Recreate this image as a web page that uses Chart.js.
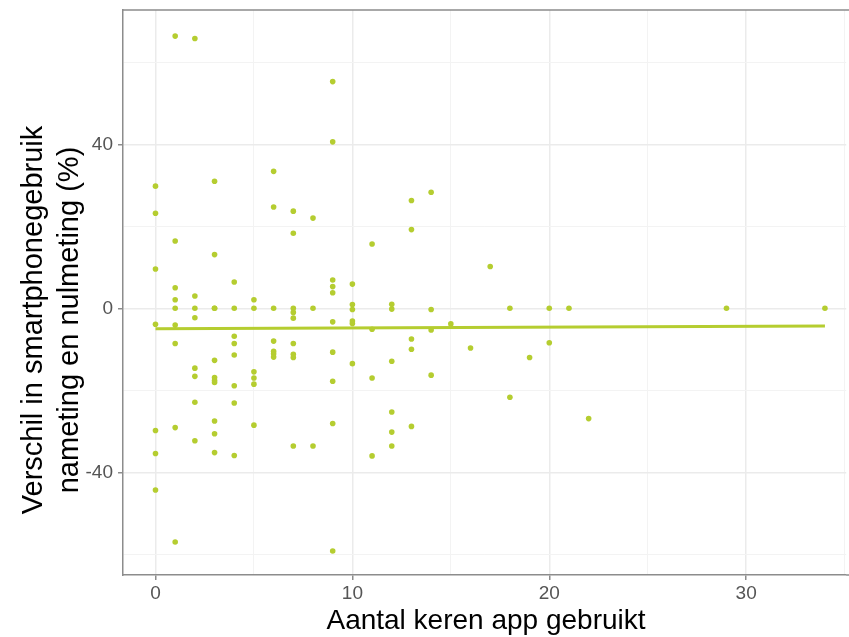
<!DOCTYPE html>
<html>
<head>
<meta charset="utf-8">
<script src="https://cdn.jsdelivr.net/npm/chart.js@4.4.1/dist/chart.umd.min.js"></script>
<style>
  html, body { margin: 0; padding: 0; background: #fff; }
  canvas { display: block; }
</style>
</head>
<body>
<canvas id="scatterChart" width="849" height="637"></canvas>
<script>
// number of times the app was used (x) and change in smartphone use in % (y)
const appUse = [
  0, 0, 0, 0, 0, 0, 0,
  1, 1, 1, 1, 1, 1, 1, 1, 1,
  2, 2, 2, 2, 2, 2, 2, 2,
  3, 3, 3, 3, 3, 3, 3, 3, 3, 3, 3,
  4, 4, 4, 4, 4, 4, 4, 4,
  5, 5, 5, 5, 5, 5,
  6, 6, 6, 6, 6, 6, 6,
  7, 7, 7, 7, 7, 7, 7, 7, 7,
  8, 8, 8,
  9, 9, 9, 9, 9, 9, 9, 9, 9, 9,
  10, 10, 10, 10, 10, 10,
  11, 11, 11, 11,
  12, 12, 12, 12, 12, 12,
  13, 13, 13, 13, 13,
  14, 14, 14, 14,
  15, 16, 17, 18, 18, 19, 20, 20, 21, 22, 29, 34
];
const diffPct = [
  29.8, 23.2, 9.6, -3.9, -29.8, -35.4, -44.3,
  66.4, 16.4, 5.0, 2.1, 0, -4.1, -8.6, -29.1, -57.0,
  65.8, 3.0, 0, -2.3, -14.6, -16.6, -22.9, -32.3,
  31.0, 13.1, 0, 0, -12.7, -16.9, -17.6, -18.1, -27.5, -30.6, -35.2,
  6.4, 0, -6.8, -8.6, -11.4, -18.9, -23.1, -35.9,
  2.1, 0, -15.5, -17.0, -18.5, -28.5,
  33.4, 24.7, 0, -8.0, -10.5, -11.1, -11.9,
  23.7, 18.3, 0, -1.0, -2.4, -8.6, -11.2, -12.0, -33.6,
  22.0, 0, -33.6,
  55.3, 40.6, 6.9, 5.3, 3.8, -3.3, -10.7, -17.8, -28.1, -59.2,
  5.9, 0.9, -0.3, -3.1, -3.7, -13.5,
  15.7, -5.1, -17.0, -36.0,
  1.0, -0.2, -12.9, -25.3, -30.2, -33.6,
  26.3, 19.2, -7.5, -10.0, -28.8,
  28.3, -0.3, -5.3, -16.3,
  -3.8, -9.7, 10.2, 0, -21.7, -12.0, 0, -8.4, 0, -26.9, 0, 0
];

// linear fit (ends of the fitted line)
const fitX = [0, 34];
const fitY = [-5.0, -4.3];

// tick values
const xTicks = [0, 5, 10, 15, 20, 25, 30, 35];
const xMajor = [0, 10, 20, 30];
const yTicks = [-60, -40, -20, 0, 20, 40, 60];
const yMajor = [-40, 0, 40];

const xTitle = 'Aantal keren app gebruikt';
const yTitle = ['Verschil in smartphonegebruik', 'nameting en nulmeting (%)'];

const green = '#b5cd30';
const axisGrey = '#8c8c8c';
const fontFamily = '"Liberation Sans", Arial, sans-serif';

function gridOpts(major) {
  return {
    color: ctx => major.includes(ctx.tick.value) ? '#ebebeb' : '#f3f3f3',
    lineWidth: ctx => major.includes(ctx.tick.value) ? 1.5 : 1,
    tickColor: ctx => major.includes(ctx.tick.value) ? axisGrey : 'rgba(0,0,0,0)',
    tickLength: 5,
    tickWidth: 1.5,
    drawTicks: true
  };
}

// axis titles and panel border drawn by hand, ggplot style
// (the panel runs off the right edge of the picture)
const framePlugin = {
  id: 'frame',
  afterDraw(chart) {
    const { ctx, chartArea } = chart;
    ctx.save();
    ctx.strokeStyle = axisGrey;
    ctx.lineWidth = 1.5;
    ctx.beginPath();
    ctx.moveTo(chartArea.left, chartArea.top);
    ctx.lineTo(chart.width, chartArea.top);
    ctx.moveTo(chartArea.right, chartArea.bottom);
    ctx.lineTo(chart.width, chartArea.bottom);
    ctx.stroke();

    ctx.fillStyle = '#000';
    ctx.font = '28px ' + fontFamily;
    ctx.textAlign = 'center';
    ctx.textBaseline = 'alphabetic';
    ctx.fillText(xTitle, 486, 629);

    ctx.font = '29px ' + fontFamily;
    ctx.translate(42, 320);
    ctx.rotate(-Math.PI / 2);
    ctx.fillText(yTitle[0], 0, 0);
    ctx.fillText(yTitle[1], 0, 36);
    ctx.restore();
  }
};

const ctx = document.getElementById('scatterChart').getContext('2d');
new Chart(ctx, {
  type: 'scatter',
  data: {
    datasets: [
      {
        label: 'metingen',
        data: appUse.map((x, i) => ({ x: x, y: diffPct[i] })),
        backgroundColor: green,
        borderWidth: 0,
        pointRadius: 2.8,
        pointHoverRadius: 2.8
      },
      {
        type: 'line',
        label: 'trend',
        data: fitX.map((x, i) => ({ x: x, y: fitY[i] })),
        borderColor: green,
        borderWidth: 3,
        pointRadius: 0,
        fill: false
      }
    ]
  },
  options: {
    responsive: false,
    animation: false,
    layout: { padding: { top: 10, right: 0, bottom: 0, left: 0 } },
    plugins: {
      legend: { display: false },
      tooltip: { enabled: false }
    },
    scales: {
      x: {
        type: 'linear',
        min: -1.65,
        max: 35.08,
        afterBuildTicks: s => { s.ticks = xTicks.map(v => ({ value: v })); },
        afterFit: s => { s.height = 62; s.paddingLeft = 0; s.paddingRight = 0; },
        grid: gridOpts(xMajor),
        border: { display: true, color: axisGrey, width: 1.5 },
        ticks: {
          autoSkip: false,
          maxRotation: 0,
          padding: 2,
          color: '#555',
          font: { family: fontFamily, size: 19 },
          callback: v => xMajor.includes(v) ? String(v) : ''
        }
      },
      y: {
        type: 'linear',
        min: -65.05,
        max: 72.76,
        afterBuildTicks: s => { s.ticks = yTicks.map(v => ({ value: v })); },
        afterFit: s => { s.width = 123; s.paddingTop = 0; s.paddingBottom = 0; },
        grid: gridOpts(yMajor),
        border: { display: true, color: axisGrey, width: 1.5 },
        ticks: {
          autoSkip: false,
          padding: 5,
          color: '#555',
          font: { family: fontFamily, size: 19 },
          callback: v => yMajor.includes(v) ? String(v) : ''
        }
      }
    }
  },
  plugins: [framePlugin]
});
</script>
</body>
</html>
